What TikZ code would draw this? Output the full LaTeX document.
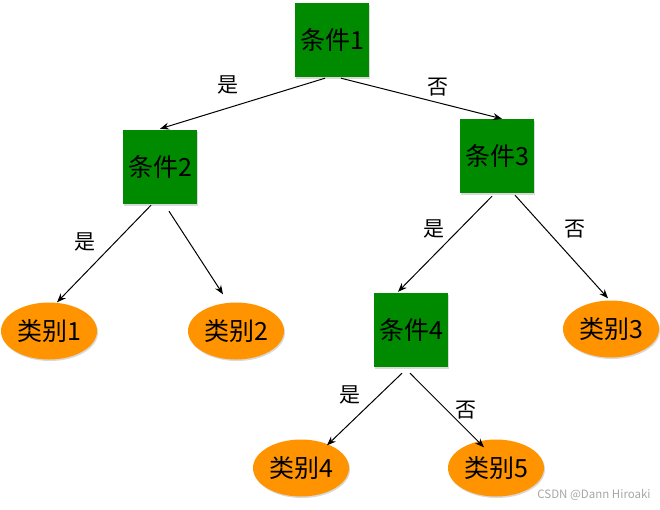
\documentclass[tikz,border=0pt]{standalone}
\usepackage{fontspec}
\setmainfont{Noto Sans CJK SC}
\usetikzlibrary{arrows.meta}
\usetikzlibrary{shadows}
\usetikzlibrary{shapes.geometric}
\definecolor{condgreen}{RGB}{0,138,0}
\definecolor{leaforange}{RGB}{255,148,0}
\tikzset{cond/.style = {fill=condgreen, minimum size=74pt, inner sep=0,
    font=\fontsize{25}{25}\selectfont,
    drop shadow={shadow xshift=1pt, shadow yshift=-1.5pt, opacity=0.3}}}
\tikzset{leaf/.style = {ellipse, fill=leaforange, minimum width=96pt, minimum height=57pt, inner sep=0,
    font=\fontsize{25}{25}\selectfont,
    drop shadow={shadow xshift=1pt, shadow yshift=-1.5pt, opacity=0.3}}}
\tikzset{edge/.style = {-{Stealth[length=9pt,width=7pt]}, line width=1pt}}
\tikzset{lbl/.style = {font=\fontsize{21}{21}\selectfont, inner sep=0}}

\begin{document}
\begin{tikzpicture}[x=1pt, y=-1pt]
    \useasboundingbox (0, 0) rectangle (660, 509);

    \node [cond] (c1) at (332, 40) {条件1};
    \node [cond] (c2) at (160, 167) {条件2};
    \node [cond] (c3) at (497, 156) {条件3};
    \node [cond] (c4) at (411, 330) {条件4};

    \node [leaf] (l1) at (49, 331) {类别1};
    \node [leaf] (l2) at (236, 331) {类别2};
    \node [leaf] (l3) at (611, 329) {类别3};
    \node [leaf] (l4) at (301, 468) {类别4};
    \node [leaf] (l5) at (496, 468) {类别5};

    \draw [edge] ([xshift=-7pt, yshift=-1pt]c1.south) -- ([xshift=0pt, yshift=1pt]c2.north);
    \draw [edge] ([xshift=9pt, yshift=-1pt]c1.south) -- ([xshift=5pt, yshift=0pt]c3.north);
    \draw [edge] ([xshift=-9pt, yshift=-1pt]c2.south) -- ([xshift=8pt, yshift=0pt]l1.north);
    \draw [edge] ([xshift=9pt, yshift=-7pt]c2.south) -- ([xshift=-13pt, yshift=8pt]l2.north);
    \draw [edge] ([xshift=-5pt, yshift=-3pt]c3.south) -- ([xshift=-13pt, yshift=1pt]c4.north);
    \draw [edge] ([xshift=18pt, yshift=-2pt]c3.south) -- ([xshift=-3pt, yshift=2pt]l3.north);
    \draw [edge] ([xshift=-9pt, yshift=-6pt]c4.south) -- ([xshift=26pt, yshift=-6pt]l4.north);
    \draw [edge] ([xshift=-1pt, yshift=-6pt]c4.south) -- ([xshift=-12pt, yshift=-8pt]l5.north);

    \node [lbl] (y1) at (228, 85) {是};
    \node [lbl] (n1) at (438, 87) {否};
    \node [lbl] (y2) at (85, 242) {是};
    \node [lbl] (y3) at (434, 229) {是};
    \node [lbl] (n3) at (575, 229) {否};
    \node [lbl] (y4) at (350, 395) {是};
    \node [lbl] (n4) at (466, 410) {否};

    \node [text=black!35, font=\fontsize{11.5}{11.5}\selectfont, inner sep=0] (wm) at (594, 495) {CSDN @Dann Hiroaki};
\end{tikzpicture}
\end{document}
